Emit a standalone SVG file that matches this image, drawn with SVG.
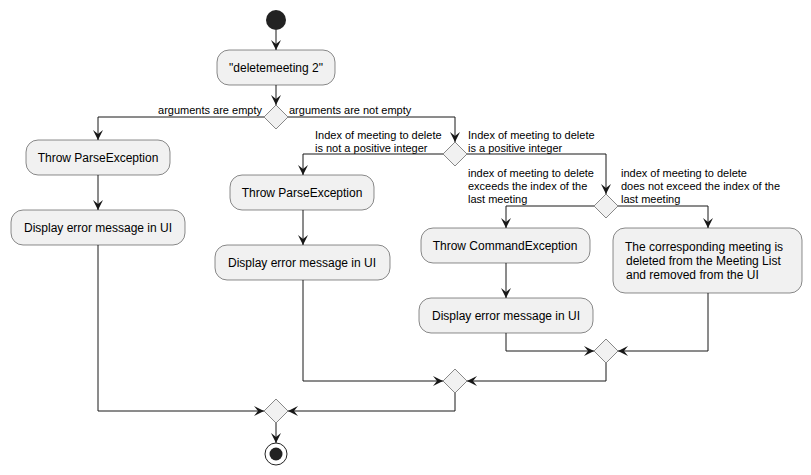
<svg xmlns="http://www.w3.org/2000/svg" width="811" height="475" viewBox="0 0 811 475">
<defs>
<style>
.box{fill:#F1F1F1;stroke:#181818;stroke-width:0.5}
.dia{fill:#F1F1F1;stroke:#181818;stroke-width:0.5}
.ln{fill:none;stroke:#181818;stroke-width:1}
text{font-family:"Liberation Sans",Arial,sans-serif;fill:#000}
.t{font-size:12px}
.l{font-size:11px}
</style>
<marker id="a" viewBox="0 0 10 10" refX="10" refY="5" markerWidth="10" markerHeight="10" orient="auto" markerUnits="userSpaceOnUse"><path d="M0,0 L10,5 L0,10 L4,5 Z" fill="#181818"/></marker>
</defs>
<g id="connectors">
<path class="ln" d="M276,30 V50" marker-end="url(#a)"/>
<path class="ln" d="M276,85 V105" marker-end="url(#a)"/>
<path class="ln" d="M264,117 H98 V140" marker-end="url(#a)"/>
<path class="ln" d="M98,175 V210" marker-end="url(#a)"/>
<path class="ln" d="M288,117 H455 V142" marker-end="url(#a)"/>
<path class="ln" d="M443,154 H303 V175" marker-end="url(#a)"/>
<path class="ln" d="M303,210 V245" marker-end="url(#a)"/>
<path class="ln" d="M467,154 H606 V194" marker-end="url(#a)"/>
<path class="ln" d="M594,206 H506 V228" marker-end="url(#a)"/>
<path class="ln" d="M506,263 V298" marker-end="url(#a)"/>
<path class="ln" d="M618,206 H708 V228" marker-end="url(#a)"/>
<path class="ln" d="M506,333 V351 H594" marker-end="url(#a)"/>
<path class="ln" d="M708,293 V351 H618" marker-end="url(#a)"/>
<path class="ln" d="M606,363 V381 H467" marker-end="url(#a)"/>
<path class="ln" d="M303,280 V381 H443" marker-end="url(#a)"/>
<path class="ln" d="M98,245 V411 H264" marker-end="url(#a)"/>
<path class="ln" d="M455,393 V411 H288" marker-end="url(#a)"/>
<path class="ln" d="M276,423 V443" marker-end="url(#a)"/>
<text class="l" x="262" y="114" text-anchor="end">arguments are empty</text>
<text class="l" x="289" y="114">arguments are not empty</text>
<text class="l" x="315" y="139">Index of meeting to delete</text>
<text class="l" x="315" y="152">is not a positive integer</text>
<text class="l" x="468" y="139">Index of meeting to delete</text>
<text class="l" x="468" y="152">is a positive integer</text>
<text class="l" x="468" y="177">index of meeting to delete</text>
<text class="l" x="468" y="190">exceeds the index of the</text>
<text class="l" x="468" y="203">last meeting</text>
<text class="l" x="621" y="177">index of meeting to delete</text>
<text class="l" x="621" y="190">does not exceed the index of the</text>
<text class="l" x="621" y="203">last meeting</text>
</g>
<g id="start"><circle cx="276" cy="20" r="10" fill="#222"/></g>
<g id="cmd"><rect class="box" x="217" y="50" width="118" height="35" rx="12"/><text class="t" x="276" y="72" text-anchor="middle">"deletemeeting 2"</text></g>
<g id="d1"><polygon class="dia" points="276,105 288,117 276,129 264,117"/></g>
<g id="tp1"><rect class="box" x="26" y="140" width="144" height="35" rx="12"/><text class="t" x="98" y="162" text-anchor="middle">Throw ParseException</text></g>
<g id="de1"><rect class="box" x="11" y="210" width="174" height="35" rx="12"/><text class="t" x="98" y="232" text-anchor="middle">Display error message in UI</text></g>
<g id="d2"><polygon class="dia" points="455,142 467,154 455,166 443,154"/></g>
<g id="tp2"><rect class="box" x="230" y="175" width="144" height="35" rx="12"/><text class="t" x="302" y="197" text-anchor="middle">Throw ParseException</text></g>
<g id="de2"><rect class="box" x="215" y="245" width="175" height="35" rx="12"/><text class="t" x="302" y="267" text-anchor="middle">Display error message in UI</text></g>
<g id="d3"><polygon class="dia" points="606,194 618,206 606,218 594,206"/></g>
<g id="tc"><rect class="box" x="421" y="228" width="169" height="35" rx="12"/><text class="t" x="505" y="250" text-anchor="middle">Throw CommandException</text></g>
<g id="de3"><rect class="box" x="419" y="298" width="174" height="35" rx="12"/><text class="t" x="506" y="320" text-anchor="middle">Display error message in UI</text></g>
<g id="ok"><rect class="box" x="613" y="228" width="189" height="65" rx="12"/><text class="t" x="625" y="251">The corresponding meeting is</text><text class="t" x="626" y="265">deleted from the Meeting List</text><text class="t" x="626" y="279">and removed from the UI</text></g>
<g id="m1"><polygon class="dia" points="606,339 618,351 606,363 594,351"/></g>
<g id="m2"><polygon class="dia" points="455,369 467,381 455,393 443,381"/></g>
<g id="m3"><polygon class="dia" points="276,399 288,411 276,423 264,411"/></g>
<g id="end"><circle cx="276" cy="454" r="11" fill="none" stroke="#222" stroke-width="1"/><circle cx="276" cy="454" r="6.5" fill="#222"/></g>
</svg>
